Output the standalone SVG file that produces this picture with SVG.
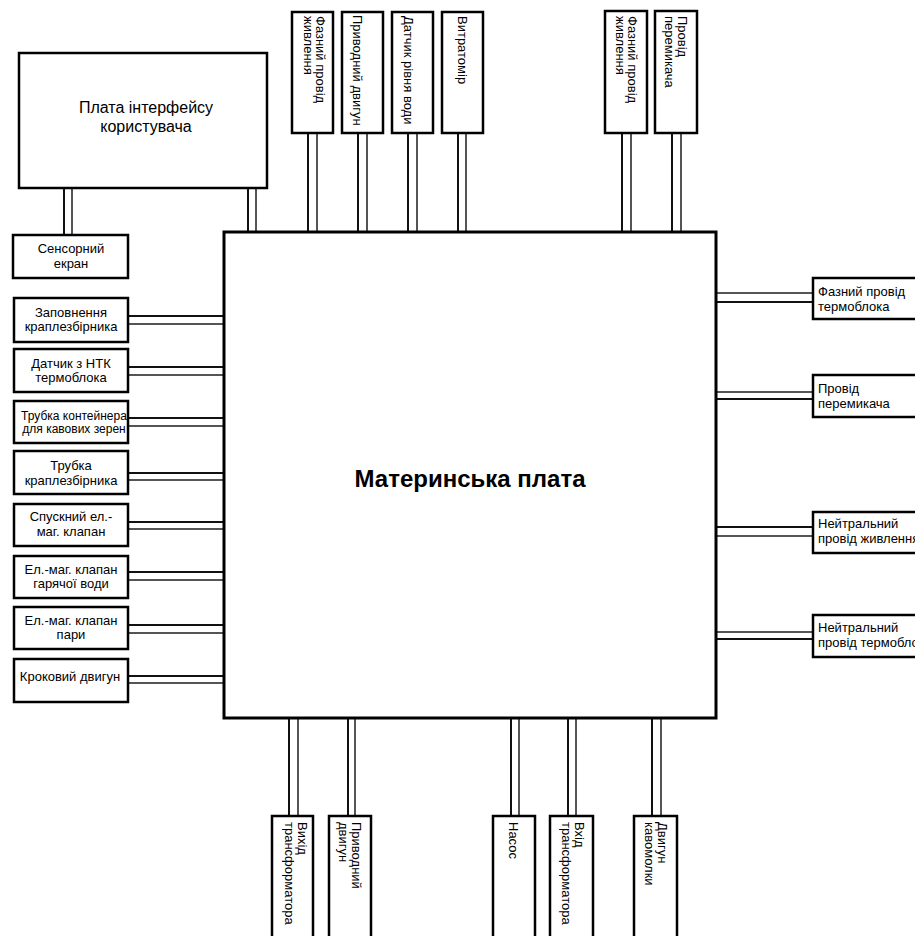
<svg xmlns="http://www.w3.org/2000/svg" width="915" height="936" viewBox="0 0 915 936">
<style>
.box{fill:#fff;stroke:#000;stroke-width:2.5}
.main{fill:#fff;stroke:#000;stroke-width:3}
.w1{stroke:#111;stroke-width:2;fill:none}
.w2{stroke:#555;stroke-width:2;fill:none}
text{font-family:"Liberation Sans",Arial,sans-serif;font-size:13px;fill:#000}
.c{text-anchor:middle}
.big{font-size:24px;font-weight:bold;text-anchor:middle}
.ui{font-size:16px;text-anchor:middle}
.sm{font-size:12px;text-anchor:middle}
</style>
<rect width="915" height="936" fill="#fff"/>
<g id="connectors">
  <!-- UI board -->
  <line class="w1" x1="64" y1="188" x2="64" y2="235"/><line class="w2" x1="72" y1="188" x2="72" y2="235"/>
  <line class="w1" x1="248" y1="188" x2="248" y2="232"/><line class="w2" x1="256" y1="188" x2="256" y2="232"/>
  <!-- top -->
  <line class="w1" x1="308" y1="133" x2="308" y2="232"/><line class="w2" x1="317" y1="133" x2="317" y2="232"/>
  <line class="w1" x1="358" y1="133" x2="358" y2="232"/><line class="w2" x1="367" y1="133" x2="367" y2="232"/>
  <line class="w1" x1="408" y1="133" x2="408" y2="232"/><line class="w2" x1="417" y1="133" x2="417" y2="232"/>
  <line class="w1" x1="458" y1="133" x2="458" y2="232"/><line class="w2" x1="466" y1="133" x2="466" y2="232"/>
  <line class="w1" x1="622" y1="133" x2="622" y2="232"/><line class="w2" x1="631" y1="133" x2="631" y2="232"/>
  <line class="w1" x1="672" y1="133" x2="672" y2="232"/><line class="w2" x1="681" y1="133" x2="681" y2="232"/>
  <!-- left -->
  <line class="w1" x1="128" y1="316" x2="224" y2="316"/><line class="w2" x1="128" y1="324" x2="224" y2="324"/>
  <line class="w1" x1="128" y1="367" x2="224" y2="367"/><line class="w2" x1="128" y1="375" x2="224" y2="375"/>
  <line class="w1" x1="128" y1="418" x2="224" y2="418"/><line class="w2" x1="128" y1="426" x2="224" y2="426"/>
  <line class="w1" x1="128" y1="473" x2="224" y2="473"/><line class="w2" x1="128" y1="480" x2="224" y2="480"/>
  <line class="w1" x1="128" y1="522" x2="224" y2="522"/><line class="w2" x1="128" y1="529" x2="224" y2="529"/>
  <line class="w1" x1="128" y1="572" x2="224" y2="572"/><line class="w2" x1="128" y1="580" x2="224" y2="580"/>
  <line class="w1" x1="128" y1="625" x2="224" y2="625"/><line class="w2" x1="128" y1="633" x2="224" y2="633"/>
  <line class="w1" x1="128" y1="676" x2="224" y2="676"/><line class="w2" x1="128" y1="683" x2="224" y2="683"/>
  <!-- right -->
  <line class="w2" x1="716" y1="293" x2="813" y2="293"/><line class="w1" x1="716" y1="302" x2="813" y2="302"/>
  <line class="w2" x1="716" y1="392" x2="813" y2="392"/><line class="w1" x1="716" y1="399" x2="813" y2="399"/>
  <line class="w1" x1="716" y1="527" x2="813" y2="527"/><line class="w2" x1="716" y1="536" x2="813" y2="536"/>
  <line class="w2" x1="716" y1="632" x2="813" y2="632"/><line class="w1" x1="716" y1="639" x2="813" y2="639"/>
  <!-- bottom -->
  <line class="w1" x1="289" y1="718" x2="289" y2="816"/><line class="w2" x1="298" y1="718" x2="298" y2="816"/>
  <line class="w1" x1="348" y1="718" x2="348" y2="816"/><line class="w2" x1="355" y1="718" x2="355" y2="816"/>
  <line class="w1" x1="511" y1="718" x2="511" y2="816"/><line class="w2" x1="519" y1="718" x2="519" y2="816"/>
  <line class="w1" x1="568" y1="718" x2="568" y2="816"/><line class="w2" x1="576" y1="718" x2="576" y2="816"/>
  <line class="w1" x1="652" y1="718" x2="652" y2="816"/><line class="w2" x1="661" y1="718" x2="661" y2="816"/>
</g>
<g id="main">
  <rect class="main" x="224" y="232" width="492" height="486"/>
  <text class="big" x="470" y="487">Материнська плата</text>
</g>
<g id="ui-board">
  <rect class="box" x="19" y="53" width="248" height="135"/>
  <text class="ui" x="146" y="113">Плата інтерфейсу</text>
  <text class="ui" x="146" y="132">користувача</text>
</g>
<g id="touch-screen">
  <rect class="box" x="13" y="235" width="115" height="43"/>
  <text class="c" x="71" y="253">Сенсорний</text>
  <text class="c" x="71" y="268">екран</text>
</g>
<g id="left-1"><rect class="box" x="14" y="298" width="114" height="44"/>
  <text class="c" x="71" y="317">Заповнення</text><text class="c" x="71" y="331">краплезбірника</text></g>
<g id="left-2"><rect class="box" x="14" y="349" width="114" height="43"/>
  <text class="c" x="71" y="368">Датчик з НТК</text><text class="c" x="71" y="382">термоблока</text></g>
<g id="left-3"><rect class="box" x="14" y="401" width="114" height="42"/>
  <text class="sm" x="74" y="420">Трубка контейнера</text><text class="sm" x="74" y="433">для кавових зерен</text></g>
<g id="left-4"><rect class="box" x="14" y="451" width="114" height="43"/>
  <text class="c" x="71" y="470">Трубка</text><text class="c" x="71" y="485">краплезбірника</text></g>
<g id="left-5"><rect class="box" x="14" y="504" width="114" height="42"/>
  <text class="c" x="71" y="521">Спускний ел.-</text><text class="c" x="71" y="536">маг. клапан</text></g>
<g id="left-6"><rect class="box" x="14" y="556" width="114" height="42"/>
  <text class="c" x="71" y="574">Ел.-маг. клапан</text><text class="c" x="71" y="588">гарячої води</text></g>
<g id="left-7"><rect class="box" x="14" y="607" width="114" height="42"/>
  <text class="c" x="71" y="625">Ел.-маг. клапан</text><text class="c" x="71" y="639">пари</text></g>
<g id="left-8"><rect class="box" x="14" y="659" width="114" height="43"/>
  <text class="c" x="70" y="681">Кроковий двигун</text></g>
<g id="right-1"><rect class="box" x="813" y="278" width="120" height="41"/>
  <text x="818" y="296">Фазний провід</text><text x="818" y="311">термоблока</text></g>
<g id="right-2"><rect class="box" x="813" y="375" width="120" height="42"/>
  <text x="818" y="393">Провід</text><text x="818" y="408">перемикача</text></g>
<g id="right-3"><rect class="box" x="813" y="512" width="120" height="41"/>
  <text x="818" y="528">Нейтральний</text><text x="818" y="543">провід живлення</text></g>
<g id="right-4"><rect class="box" x="813" y="615" width="120" height="42"/>
  <text x="818" y="632">Нейтральний</text><text x="818" y="647">провід термоблока</text></g>
<g id="top-1"><rect class="box" x="292" y="12" width="41" height="121"/>
  <text transform="translate(316,16) rotate(90)">Фазний провід</text>
  <text transform="translate(304,16) rotate(90)">живлення</text></g>
<g id="top-2"><rect class="box" x="342" y="12" width="41" height="121"/>
  <text transform="translate(353,15) rotate(90)">Приводний двигун</text></g>
<g id="top-3"><rect class="box" x="392" y="12" width="41" height="121"/>
  <text transform="translate(403.5,16) rotate(90)">Датчик рівня води</text></g>
<g id="top-4"><rect class="box" x="442" y="12" width="41" height="121"/>
  <text transform="translate(458,16) rotate(90)">Витратомір</text></g>
<g id="top-5"><rect class="box" x="605" y="11" width="42" height="122"/>
  <text transform="translate(628,16) rotate(90)">Фазний провід</text>
  <text transform="translate(616,16) rotate(90)">живлення</text></g>
<g id="top-6"><rect class="box" x="655" y="11" width="42" height="122"/>
  <text transform="translate(678,16) rotate(90)">Провід</text>
  <text transform="translate(665,16) rotate(90)">перемикача</text></g>
<g id="bottom-1"><rect class="box" x="272" y="816" width="41" height="130"/>
  <text transform="translate(298,822) rotate(90)">Вихід</text>
  <text transform="translate(285,822) rotate(90)">трансформатора</text></g>
<g id="bottom-2"><rect class="box" x="329" y="816" width="42" height="130"/>
  <text transform="translate(352,822) rotate(90)">Приводний</text>
  <text transform="translate(339,822) rotate(90)">двигун</text></g>
<g id="bottom-3"><rect class="box" x="493" y="816" width="42" height="130"/>
  <text transform="translate(509,822) rotate(90)">Насос</text></g>
<g id="bottom-4"><rect class="box" x="550" y="816" width="43" height="130"/>
  <text transform="translate(575,822) rotate(90)">Вхід</text>
  <text transform="translate(562,822) rotate(90)">трансформатора</text></g>
<g id="bottom-5"><rect class="box" x="634" y="816" width="43" height="130"/>
  <text transform="translate(658,822) rotate(90)">Двигун</text>
  <text transform="translate(645,822) rotate(90)">кавомолки</text></g>
</svg>
